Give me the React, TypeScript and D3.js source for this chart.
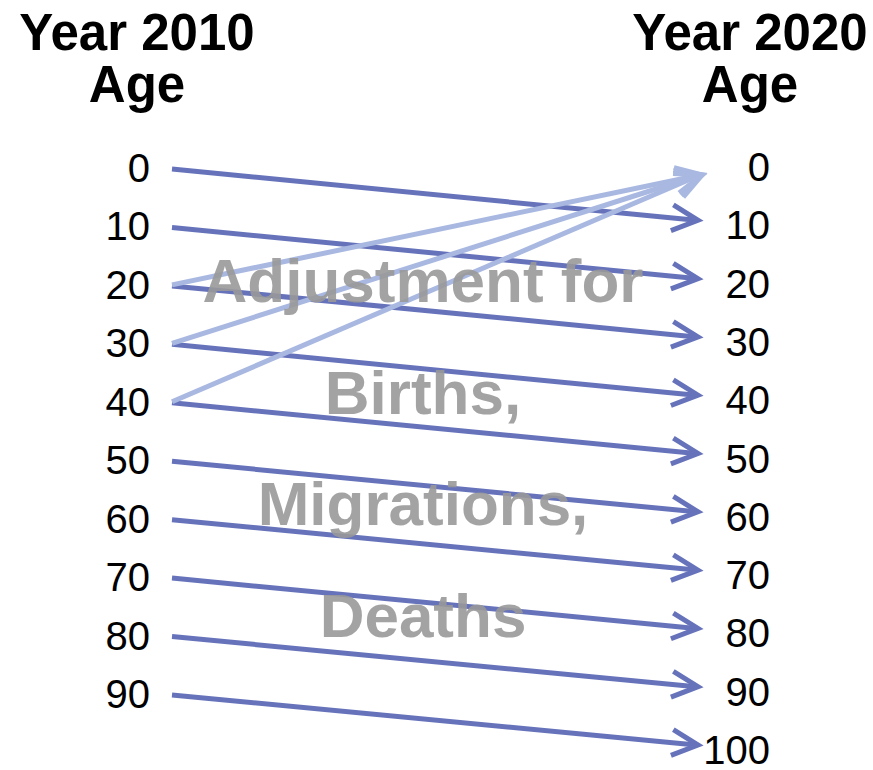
import * as d3 from 'd3';

const leftAges = [0, 10, 20, 30, 40, 50, 60, 70, 80, 90];
const rightAges = [0, 10, 20, 30, 40, 50, 60, 70, 80, 90, 100];
// aging flows: each cohort moves ten years forward
const agingFlows = leftAges.map((a) => [a, a + 10]);
// births: parents aged 20-40 in 2010 feed the new 0 group
const birthFlows = [
  [20, 0],
  [30, 0],
  [40, 0],
];
const centerLines = ['Adjustment for', 'Births,', 'Migrations,', 'Deaths'];

const WIDTH = 873;
const HEIGHT = 770;
const DARK = '#6673bb';
const LIGHT = '#a9b8e1';
const FONT = '"Liberation Sans", Arial, sans-serif';

const arrowHead = (x1: number, y1: number, x2: number, y2: number) => {
  const ang = Math.atan2(y2 - y1, x2 - x1);
  const len = 29;
  const spread = 0.46;
  const a = [x2 - len * Math.cos(ang - spread), y2 - len * Math.sin(ang - spread)];
  const b = [x2 - len * Math.cos(ang + spread), y2 - len * Math.sin(ang + spread)];
  return `M${a[0]},${a[1]}L${x2},${y2}L${b[0]},${b[1]}`;
};

export default function App() {
  const yLeft = d3.scaleLinear().domain([0, 90]).range([168, 694]);
  const yRight = d3.scaleLinear().domain([0, 100]).range([167, 750]);
  const x0 = 172;
  const x1 = 698;

  const arrow = (key: string, sx: number, sy: number, ex: number, ey: number, color: string) => (
    <g key={key} stroke={color} strokeWidth={5} fill="none" strokeLinejoin="miter">
      <line x1={sx} y1={sy} x2={ex - 2} y2={ey} />
      <path d={arrowHead(sx, sy, ex, ey)} />
    </g>
  );

  return (
    <div style={{ position: 'absolute', left: 0, top: 0 }}>
      <svg width={WIDTH} height={HEIGHT} fontFamily={FONT}>
        <rect width={WIDTH} height={HEIGHT} fill="white" />
        {/* headers */}
        <g fontWeight="bold" fontSize={51} textAnchor="middle" fill="#000">
          <text x={137} y={50}>Year 2010</text>
          <text x={137} y={102}>Age</text>
          <text x={750} y={50}>Year 2020</text>
          <text x={750} y={102}>Age</text>
        </g>

        {/* age labels */}
        <g fontSize={40} fill="#000" dominantBaseline="central">
          {leftAges.map((a) => (
            <text key={'l' + a} x={150} y={yLeft(a)} textAnchor="end">
              {a}
            </text>
          ))}
          {rightAges.map((a) => (
            <text key={'r' + a} x={770} y={yRight(a)} textAnchor="end">
              {a}
            </text>
          ))}
        </g>

        {agingFlows.map(([f, t]) =>
          arrow('d' + f, x0, yLeft(f) + 1, x1, yRight(t) - 5, DARK)
        )}
        {birthFlows.map(([f, t]) =>
          arrow('b' + f, x0, yLeft(f), x1 + 4, yRight(t) + 8, LIGHT)
        )}

        {/* overlay caption */}
        <g fontWeight="bold" fontSize={62} textAnchor="middle" fill="#999" fillOpacity={0.9}>
          {centerLines.map((s, i) => (
            <text key={s} x={423} y={302 + i * 111.5}>
              {s}
            </text>
          ))}
        </g>
      </svg>
    </div>
  );
}
